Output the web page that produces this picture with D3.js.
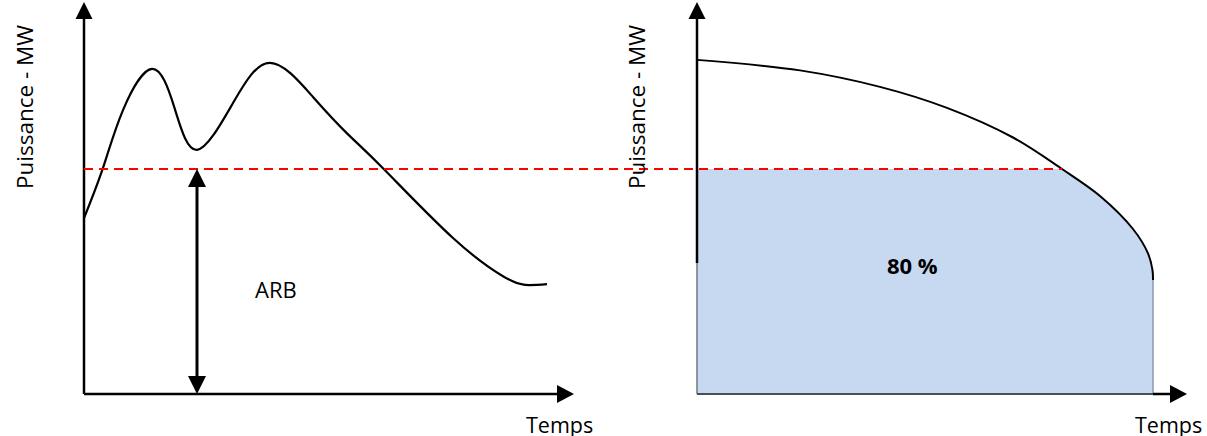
<!DOCTYPE html>
<html>
<head>
<meta charset="utf-8">
<script src="https://cdn.jsdelivr.net/npm/d3@7"></script>
<style>
  body { margin: 0; background: #fff; }
  text { font-family: "Open Sans", "Noto Sans", sans-serif; fill: #000; }
</style>
</head>
<body>
<div id="chart"></div>
<script>
// left panel : load curve (time, power)
var loadTime  = [0, 3.8, 7.8, 13.6, 18.1, 22.6, 29.8, 37.2, 45.8, 52.6, 59.8, 73.8, 83.8, 88.2, 92.6];
var loadPower = [46.9, 60.3, 75.7, 86.7, 76.3, 65.1, 77.6, 88.3, 79.2, 69.5, 60.2, 41.6, 31.4, 29.1, 29.3];
// right panel : duration curve
var durTime  = [0, 20.6, 36.6, 50, 63.2, 73, 80.6, 87.2, 90.2, 91.1, 91.2];
var durPower = [89.1, 86.3, 81.9, 76.3, 68.4, 60, 52.8, 44, 37.5, 33, 30.4];

var threshold = 60;      // ARB level
var arbTime = 22.6;
var thresholdEnd = 73;   // where dashed line meets duration curve
var yLabel = "Puissance - MW";
var xLabel = "Temps";
var arbLabel = "ARB";
var pctLabel = "80 %";

var width = 1207, height = 436;

var svg = d3.select('#chart').append('svg')
  .attr('width', width)
  .attr('height', height);

var y = d3.scaleLinear().domain([0, 100]).range([394, 19]);
var xL = d3.scaleLinear().domain([0, 100]).range([84, 584]);
var xR = d3.scaleLinear().domain([0, 100]).range([697, 1197]);

var loadData = loadTime.map(function(t, i) { return {t: t, p: loadPower[i]}; });
var durData = durTime.map(function(t, i) { return {t: t, p: durPower[i]}; });

var smooth = d3.curveCatmullRom.alpha(0.5);

function tri(x, y0, dir, len, half) {
  // dir: 'up','down','right'
  if (dir == 'up') return 'M' + x + ',' + y0 + 'L' + (x - half) + ',' + (y0 + len) + 'L' + (x + half) + ',' + (y0 + len) + 'Z';
  if (dir == 'down') return 'M' + x + ',' + y0 + 'L' + (x - half) + ',' + (y0 - len) + 'L' + (x + half) + ',' + (y0 - len) + 'Z';
  return 'M' + x + ',' + y0 + 'L' + (x - len) + ',' + (y0 - half) + 'L' + (x - len) + ',' + (y0 + half) + 'Z';
}

// ---- right panel fill (under duration curve, capped at threshold)
svg.append('clipPath').attr('id', 'capClip')
  .append('rect')
  .attr('x', xR(0)).attr('y', y(threshold))
  .attr('width', xR(100) - xR(0)).attr('height', y(0) - y(threshold));

var durArea = d3.area()
  .x(function(d) { return xR(d.t); })
  .y0(y(0))
  .y1(function(d) { return y(d.p); })
  .curve(smooth);

svg.append('path')
  .datum(durData)
  .attr('d', durArea)
  .attr('clip-path', 'url(#capClip)')
  .attr('fill', '#c6d9f0');

var lastT = durTime[durTime.length - 1];

// fill right edge
svg.append('line')
  .attr('x1', xR(lastT)).attr('x2', xR(lastT))
  .attr('y1', y(durPower[durPower.length - 1])).attr('y2', y(0))
  .attr('stroke', '#8a9ab0').attr('stroke-width', 1.5);

// ---- axes
function drawAxes(x, tipX, lowerGrey) {
  var x0 = x(0);
  if (lowerGrey) {
    svg.append('line').attr('x1', x0).attr('x2', x0).attr('y1', y(0)).attr('y2', 263)
      .attr('stroke', '#6f7782').attr('stroke-width', 1.5);
    svg.append('line').attr('x1', x0).attr('x2', x0).attr('y1', 263).attr('y2', 16)
      .attr('stroke', '#000').attr('stroke-width', 2.5);
    svg.append('line').attr('x1', x0).attr('x2', x(lastT)).attr('y1', y(0)).attr('y2', y(0))
      .attr('stroke', '#4a4f57').attr('stroke-width', 2);
    svg.append('line').attr('x1', x(lastT)).attr('x2', tipX - 15).attr('y1', y(0)).attr('y2', y(0))
      .attr('stroke', '#000').attr('stroke-width', 2.5);
  } else {
    svg.append('line').attr('x1', x0).attr('x2', x0).attr('y1', y(0)).attr('y2', 16)
      .attr('stroke', '#000').attr('stroke-width', 2.5);
    svg.append('line').attr('x1', x0).attr('x2', tipX - 15).attr('y1', y(0)).attr('y2', y(0))
      .attr('stroke', '#000').attr('stroke-width', 2.5);
  }
  svg.append('path').attr('d', tri(x0, 2, 'up', 17, 8.5)).attr('fill', '#000');
  svg.append('path').attr('d', tri(tipX, y(0), 'right', 17, 9)).attr('fill', '#000');
}
drawAxes(xL, 574, false);
drawAxes(xR, 1187, true);

// ---- curves
var line = function(x, c) {
  return d3.line()
    .x(function(d) { return x(d.t); })
    .y(function(d) { return y(d.p); })
    .curve(c);
};

svg.append('path')
  .datum(loadData)
  .attr('d', line(xL, d3.curveNatural))
  .attr('fill', 'none')
  .attr('stroke', '#000')
  .attr('stroke-width', 2.2);

svg.append('path')
  .datum(durData)
  .attr('d', line(xR, smooth))
  .attr('fill', 'none')
  .attr('stroke', '#000')
  .attr('stroke-width', 2);

// ---- threshold dashed line
svg.append('line')
  .attr('x1', xL(0)).attr('x2', xR(thresholdEnd))
  .attr('y1', y(threshold)).attr('y2', y(threshold))
  .attr('stroke', '#ff0000')
  .attr('stroke-width', 2)
  .attr('stroke-dasharray', '9,6');

// ---- ARB double arrow
var ax = xL(arbTime);
svg.append('line')
  .attr('x1', ax).attr('x2', ax)
  .attr('y1', y(threshold) + 10).attr('y2', y(0) - 10)
  .attr('stroke', '#000').attr('stroke-width', 3);
svg.append('path').attr('d', tri(ax, y(threshold), 'up', 18, 9)).attr('fill', '#000');
svg.append('path').attr('d', tri(ax, y(0), 'down', 18, 9)).attr('fill', '#000');

// ---- labels
[[25, 107], [637, 107]].forEach(function(p) {
  svg.append('text')
    .attr('transform', 'translate(' + p[0] + ',' + p[1] + ') rotate(-90)')
    .attr('text-anchor', 'middle')
    .attr('dy', '0.35em')
    .style('font-size', '22.5px')
    .text(yLabel);
});

svg.append('text').attr('x', 526).attr('y', 433).style('font-size', '21.5px').text(xLabel);
svg.append('text').attr('x', 1135).attr('y', 433).style('font-size', '21.5px').text(xLabel);

svg.append('text').attr('x', 255).attr('y', 298).style('font-size', '22px').text(arbLabel);

svg.append('text').attr('x', 887).attr('y', 274)
  .style('font-size', '22px').style('font-weight', 'bold')
  .text(pctLabel);
</script>
</body>
</html>
